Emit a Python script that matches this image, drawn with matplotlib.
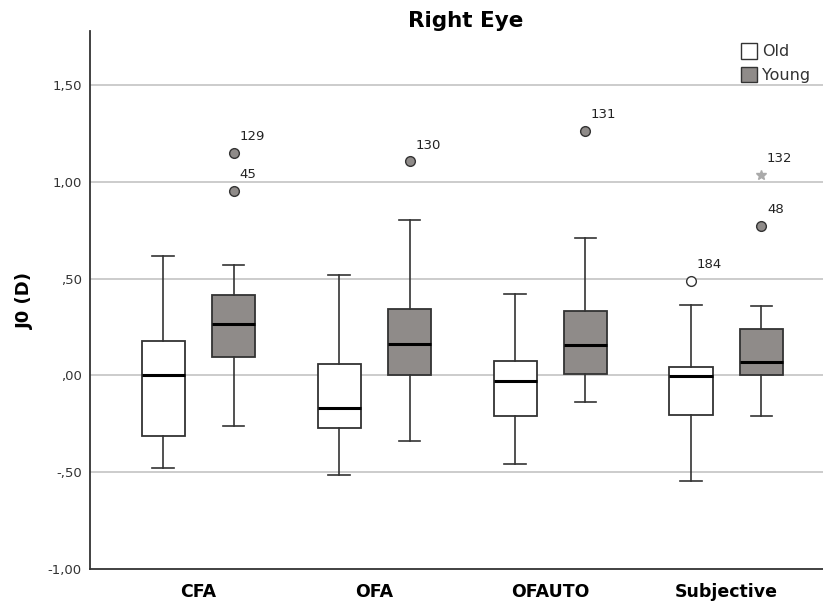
import matplotlib

matplotlib.use("Agg")
import matplotlib.pyplot as plt
from matplotlib.patches import Patch

CATEGORIES = ["CFA", "OFA", "OFAUTO", "Subjective"]
GROUPS = ["Old", "Young"]

# per category: [Old, Young]
WHISKER_LOW = [[-0.48, -0.26], [-0.514, -0.337], [-0.459, -0.136], [-0.543, -0.211]]
Q1 = [[-0.315, 0.093], [-0.273, 0.0], [-0.211, 0.007], [-0.206, 0.0]]
MEDIAN = [[0.0, 0.268], [-0.167, 0.163], [-0.029, 0.156], [-0.003, 0.069]]
Q3 = [[0.18, 0.417], [0.057, 0.345], [0.077, 0.332], [0.043, 0.241]]
WHISKER_HIGH = [[0.62, 0.572], [0.517, 0.806], [0.423, 0.71], [0.366, 0.361]]

# outliers: (category index, group index, value, case label)
OUTLIERS = [
    (0, 1, 1.15, "129"),
    (0, 1, 0.954, "45"),
    (1, 1, 1.107, "130"),
    (2, 1, 1.266, "131"),
    (3, 0, 0.49, "184"),
    (3, 1, 0.773, "48"),
]
EXTREMES = [(3, 1, 1.038, "132")]

FILLS = ["white", "#8f8b89"]
OFFSET = 0.2
WIDTH = 0.245

fig = plt.figure(figsize=(8.23, 6.09), dpi=100)
ax = fig.add_axes([0.1094, 0.0657, 0.8906, 0.8833])

for g, fill in enumerate(FILLS):
    stats = []
    positions = []
    for c in range(len(CATEGORIES)):
        stats.append(
            {
                "med": MEDIAN[c][g],
                "q1": Q1[c][g],
                "q3": Q3[c][g],
                "whislo": WHISKER_LOW[c][g],
                "whishi": WHISKER_HIGH[c][g],
                "fliers": [],
            }
        )
        positions.append(c + (OFFSET if g else -OFFSET))
    ax.bxp(
        stats,
        positions=positions,
        widths=WIDTH,
        patch_artist=True,
        showfliers=False,
        boxprops=dict(facecolor=fill, edgecolor="#333333", linewidth=1.3),
        medianprops=dict(color="black", linewidth=2.2),
        whiskerprops=dict(color="#333333", linewidth=1.2),
        capprops=dict(color="#333333", linewidth=1.2),
        capwidths=WIDTH / 2,
        zorder=3,
    )

for c, g, val, label in OUTLIERS:
    x = c + (OFFSET if g else -OFFSET)
    ax.plot(x, val, "o", ms=7, mfc=FILLS[g], mec="#333333", mew=1.0, zorder=4)
    ax.annotate(label, (x, val), xytext=(4, 9), textcoords="offset points",
                fontsize=9.5, color="#222222")

for c, g, val, label in EXTREMES:
    x = c + (OFFSET if g else -OFFSET)
    ax.plot(x, val, "*", ms=7, color="#aaaaaa", zorder=4)
    ax.annotate(label, (x, val), xytext=(4, 9), textcoords="offset points",
                fontsize=9.5, color="#222222")

ax.set_xlim(-0.616, 3.55)
ax.set_ylim(-1.0, 1.78)
ax.set_xticks(range(len(CATEGORIES)))
ax.set_xticklabels(CATEGORIES, fontsize=12.5, fontweight="bold")
yticks = [-1.0, -0.5, 0.0, 0.5, 1.0, 1.5]
ax.set_yticks(yticks)
ax.set_yticklabels(["-1,00", "-,50", ",00", ",50", "1,00", "1,50"], fontsize=9.5, color="#333333")
ax.tick_params(length=0, pad=6)
ax.tick_params(axis="x", pad=10)
for y in yticks[1:]:
    ax.axhline(y, color="#c4c4c4", linewidth=1.2, zorder=0)

for side in ["top", "right"]:
    ax.spines[side].set_visible(False)
for side in ["left", "bottom"]:
    ax.spines[side].set_color("#333333")
    ax.spines[side].set_linewidth(1.3)

ax.set_ylabel("J0 (D)", fontsize=13, fontweight="bold", labelpad=10)
ax.set_title("Right Eye", fontsize=15.5, fontweight="bold", pad=3, x=0.513)

handles = [Patch(facecolor=f, edgecolor="#333333", label=n) for f, n in zip(FILLS, GROUPS)]
ax.legend(handles=handles, loc="upper right", bbox_to_anchor=(0.995, 0.995), frameon=False,
          fontsize=11.5, handlelength=1.0, handleheight=1.1, handletextpad=0.3,
          labelspacing=0.45, borderaxespad=0.2, labelcolor="#333333")

fig.savefig("out.png", dpi=100)
